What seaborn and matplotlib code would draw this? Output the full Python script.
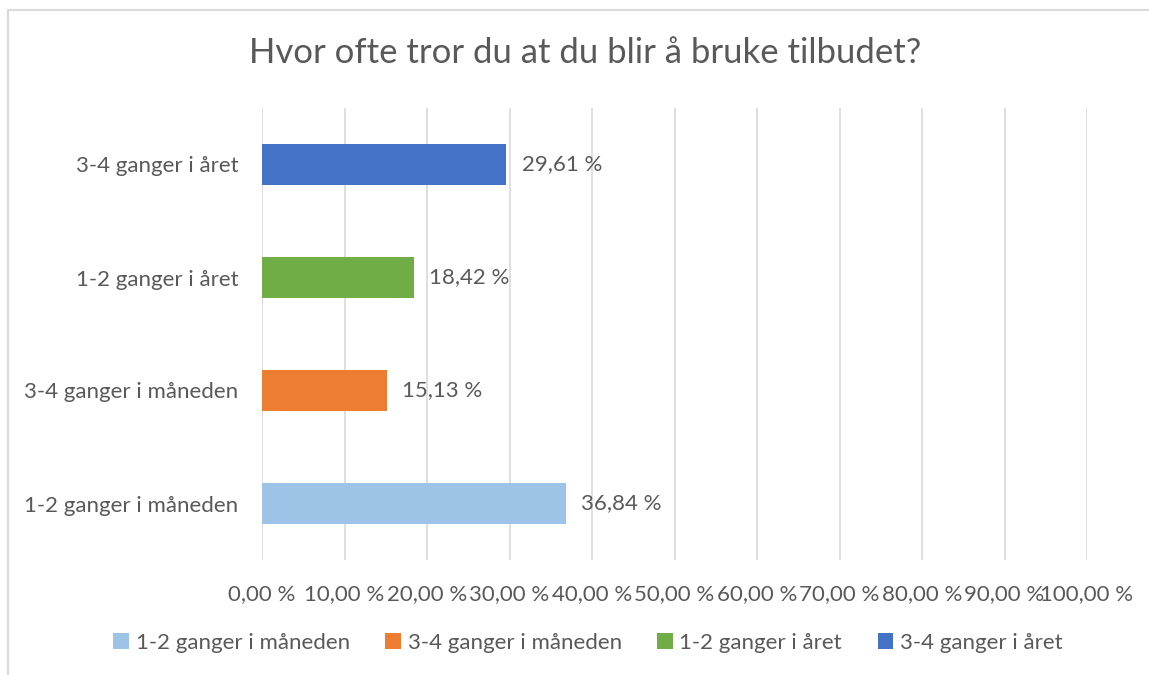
import matplotlib
matplotlib.use("Agg")
import matplotlib.pyplot as plt
import seaborn as sns
import pandas as pd
from matplotlib.patches import Rectangle

categories = ["1-2 ganger i måneden", "3-4 ganger i måneden", "1-2 ganger i året", "3-4 ganger i året"]
values = [36.84, 15.13, 18.42, 29.61]
colors = ["#9DC3E6", "#ED7D31", "#70AD47", "#4472C4"]
x_ticks = [0, 10, 20, 30, 40, 50, 60, 70, 80, 90, 100]
title = "Hvor ofte tror du at du blir å bruke tilbudet?"

sns.set_theme(style="white")
plt.rcParams["font.family"] = ["Lato", "DejaVu Sans"]
txt = "#595959"
fs = 16

df = pd.DataFrame({"cat": categories, "val": values})

fig = plt.figure(figsize=(11.49, 6.75), dpi=100)
ax = fig.add_axes([262/1149, 1-560/675, (1087-262)/1149, (560-108)/675])

sns.barplot(data=df, y="cat", x="val", hue="cat", order=categories[::-1],
            hue_order=categories, palette=colors, dodge=False, width=0.354,
            orient="h", ax=ax, legend=True, saturation=1, linewidth=0)

ax.set_xlim(0, 100)
ax.set_xticks(x_ticks)
ax.set_xticklabels([f"{t:.2f}".replace(".", ",") + " %" for t in x_ticks])
ax.set_xlabel("")
ax.set_ylabel("")
for s in ax.spines.values():
    s.set_visible(False)
ax.grid(axis="x", color="#D9D9D9", linewidth=1.2)
ax.grid(axis="y", visible=False)
ax.set_axisbelow(True)
ax.tick_params(axis="x", length=0, pad=17, labelsize=fs, labelcolor=txt)
ax.tick_params(axis="y", length=0, pad=17, labelsize=fs, labelcolor=txt)

for cont in ax.containers:
    ax.bar_label(cont, labels=[f"{v:.2f}".replace(".", ",") + " %" if v == v else "" for v in cont.datavalues],
                 padding=11, fontsize=fs, color=txt)

handles, labels = ax.get_legend_handles_labels()
ax.get_legend().remove()
fig.legend(handles, labels, loc="center", bbox_to_anchor=(588/1149, 1-643/675), ncol=4,
           frameon=False, fontsize=fs, labelcolor=txt, handlelength=0.7, handleheight=0.7,
           handletextpad=0.3, columnspacing=1.6)

fig.text(585/1149, 1-53/675, title, ha="center", va="center", fontsize=25, color=txt)

fig.patches.append(Rectangle((8/1149, -0.1), 1.2, 1 - 10/675 + 0.1, transform=fig.transFigure,
                             fill=False, edgecolor="#D9D9D9", linewidth=1.5))

fig.savefig("out.png", dpi=100)
